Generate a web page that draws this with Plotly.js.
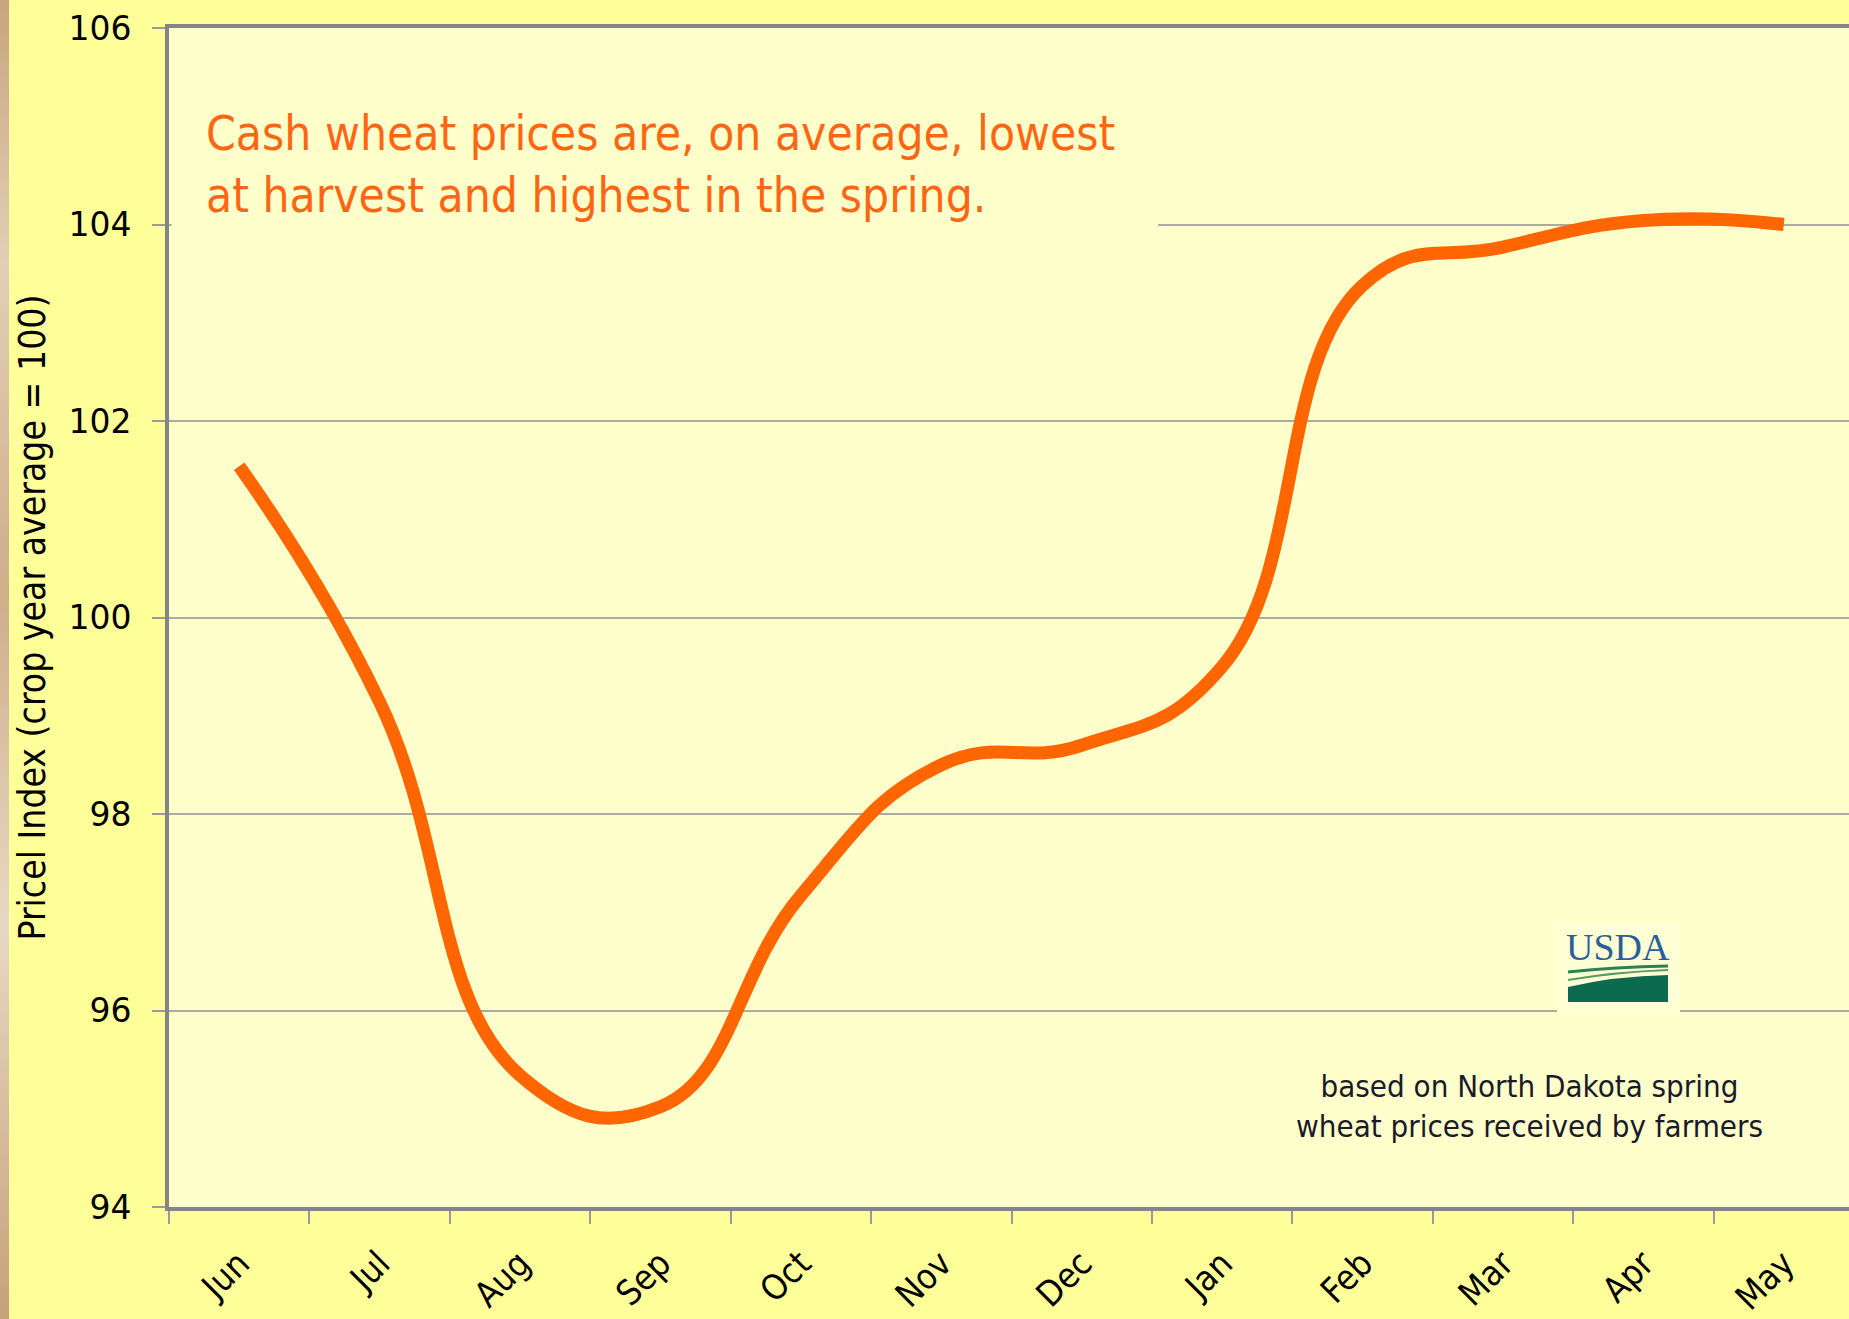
<!DOCTYPE html>
<html>
<head>
<meta charset="utf-8">
<script src="https://cdn.plot.ly/plotly-3.0.1.min.js"></script>
<style>
  html, body { margin: 0; padding: 0; width: 1849px; height: 1319px; overflow: hidden;
    background: linear-gradient(180deg, #c9a47e 0%, #e3cfb5 20%, #cfae8a 45%, #e8d8c2 70%, #c7a17a 100%); }
  #chart { position: absolute; left: 9px; top: 0; width: 1852px; height: 1319px; }
</style>
</head>
<body>
<div id="chart"></div>
<script>
// ---- data ----
const months = ['Jun', 'Jul', 'Aug', 'Sep', 'Oct', 'Nov', 'Dec', 'Jan', 'Feb', 'Mar', 'Apr', 'May'];
const priceIndex = [101.54, 99.14, 95.34, 95.02, 97.17, 98.50, 98.70, 99.50, 103.38, 103.77, 104.04, 104.00];
const yTickVals = [94, 96, 98, 100, 102, 104, 106];
const yTitle = 'Pricel Index (crop year average = 100)';
const noteText = 'Cash wheat prices are, on average, lowest<br>at harvest and highest in the spring.';
const sourceText = 'based on North Dakota spring<br>wheat prices received by farmers';
const logoText = 'USDA';

// ---- plot geometry helpers (page pixel -> paper fraction) ----
const W = 1852, H = 1319, ML = 160, MR = 7, MT = 28, MB = 112;
const PW = W - ML - MR, PH = H - MT - MB;
const px = x => (x - 9 - ML) / PW;
const py = y => (H - MB - y) / PH;

const condensed = '"DejaVu Sans Condensed", "DejaVu Sans", Tahoma, sans-serif';

const trace = {
  type: 'scatter',
  mode: 'lines',
  x: months,
  y: priceIndex,
  line: { color: '#FF6600', width: 13, shape: 'spline', smoothing: 1.3 },
  hoverinfo: 'x+y'
};

const layout = {
  width: W, height: H,
  margin: { l: ML, r: MR, t: MT, b: MB, pad: 0 },
  paper_bgcolor: '#FFFF99',
  plot_bgcolor: '#FFFFCC',
  showlegend: false,
  xaxis: {
    type: 'category',
    range: [-0.5, months.length - 0.5],
    tickson: 'boundaries',
    ticks: 'outside', ticklen: 13, tickwidth: 2, tickcolor: '#9a9a9a',
    showline: true, linecolor: '#858585', linewidth: 4, mirror: true,
    showgrid: false, zeroline: false,
    tickangle: -45,
    tickfont: { family: condensed, size: 35, color: '#000000' },
    ticklabelstandoff: 18,
    fixedrange: true
  },
  yaxis: {
    range: [94, 106],
    tickvals: yTickVals,
    ticks: 'outside', ticklen: 13, tickwidth: 2, tickcolor: '#9a9a9a',
    showline: true, linecolor: '#858585', linewidth: 4, mirror: true,
    showgrid: true, gridcolor: '#ababa0', gridwidth: 2,
    zeroline: false,
    tickfont: { family: '"DejaVu Sans", Verdana, sans-serif', size: 33, color: '#000000' },
    ticklabelstandoff: 14,
    title: { text: yTitle, font: { family: condensed, size: 37, color: '#000000' }, standoff: 12 },
    fixedrange: true
  },
  shapes: [
    // mask hiding the 104 gridline behind the note text box
    { type: 'rect', xref: 'paper', yref: 'y', layer: 'above',
      x0: 0.0015, x1: px(1158), y0: 103.93, y1: 104.07,
      fillcolor: '#FFFFCC', line: { width: 0 } },
    // logo backdrop
    { type: 'rect', xref: 'paper', yref: 'paper', layer: 'above',
      x0: px(1557), x1: px(1680), y0: py(1013), y1: py(922),
      fillcolor: '#FFFFD6', line: { width: 0 } },
    // logo green field
    { type: 'path', xref: 'paper', yref: 'paper', layer: 'above',
      path: `M ${px(1568)} ${py(1002)} L ${px(1668)} ${py(1002)} L ${px(1668)} ${py(975)} Q ${px(1615)} ${py(976)} ${px(1568)} ${py(987)} Z`,
      fillcolor: '#0c6a4f', line: { width: 0 } },
    // logo stripes
    { type: 'path', xref: 'paper', yref: 'paper', layer: 'above',
      path: `M ${px(1568)} ${py(972)} Q ${px(1615)} ${py(967)} ${px(1668)} ${py(966)}`,
      line: { color: '#2f7f55', width: 3 } },
    { type: 'path', xref: 'paper', yref: 'paper', layer: 'above',
      path: `M ${px(1568)} ${py(980)} Q ${px(1615)} ${py(972)} ${px(1668)} ${py(970)}`,
      line: { color: '#5b9a5f', width: 2 } }
  ],
  annotations: [
    { text: noteText, xref: 'paper', yref: 'paper', x: px(204), y: py(165),
      xanchor: 'left', yanchor: 'middle', align: 'left', showarrow: false,
      font: { family: condensed, size: 47.5, color: '#FF6614' } },
    { text: sourceText, xref: 'paper', yref: 'paper', x: px(1529), y: py(1106),
      xanchor: 'center', yanchor: 'middle', align: 'center', showarrow: false,
      font: { family: condensed, size: 31, color: '#1a1a28' } },
    { text: logoText, xref: 'paper', yref: 'paper', x: px(1618), y: py(947),
      xanchor: 'center', yanchor: 'middle', showarrow: false,
      font: { family: '"Liberation Serif", "DejaVu Serif", serif', size: 38, color: '#2a5f97' } }
  ]
};

Plotly.newPlot('chart', [trace], layout, { displayModeBar: false, staticPlot: true });
</script>
</body>
</html>
